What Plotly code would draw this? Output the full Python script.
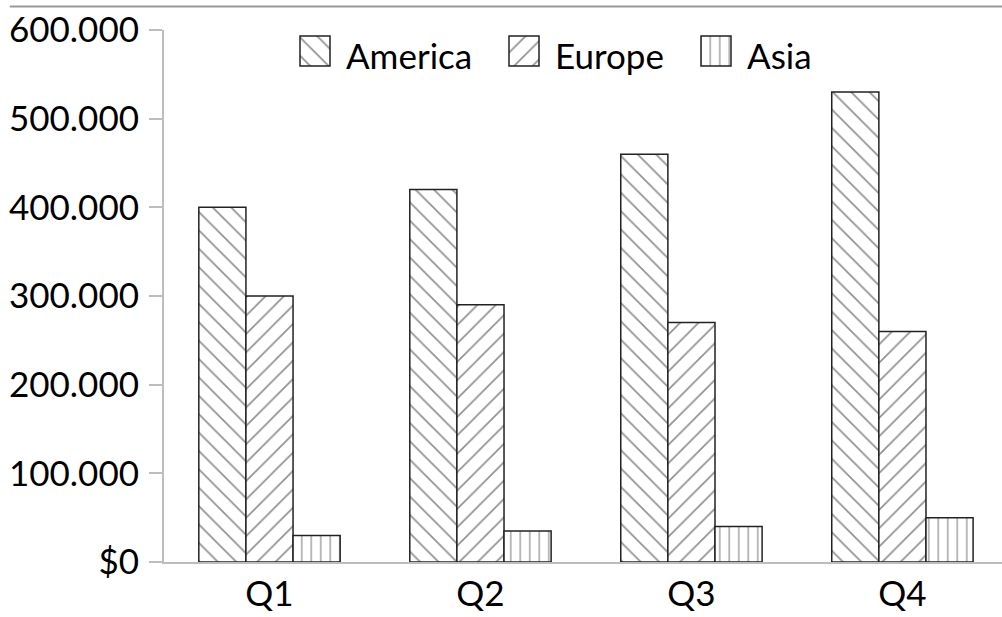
import plotly.graph_objects as go

quarters = ["Q1", "Q2", "Q3", "Q4"]
america = [400000, 420000, 460000, 530000]
europe = [300000, 290000, 270000, 260000]
asia = [30000, 35000, 40000, 50000]

tick_vals = [0, 100000, 200000, 300000, 400000, 500000, 600000]
tick_text = ["$0", "100.000", "200.000", "300.000", "400.000", "500.000", "600.000"]

FONT = "Lato"
FONT_SIZE = 35
INK = "#222222"

series_names = ["America", "Europe", "Asia"]
series_values = [america, europe, asia]
hatch_shapes = ["\\", "/", "|"]
hatch_sizes = [13, 13, 9.5]

# page geometry (pixels)
W, H = 1002, 617
ML, MT, MB = 164, 30, 55
plot_bottom = H - MB

fig = go.Figure()
for name, vals, shape, size in zip(series_names, series_values, hatch_shapes, hatch_sizes):
    fig.add_trace(go.Bar(
        name=name, x=quarters, y=vals, showlegend=False,
        marker=dict(
            color="white",
            line=dict(color=INK, width=1.5),
            pattern=dict(shape=shape, fgcolor=INK, bgcolor="white",
                         size=size, solidity=0.13),
        ),
    ))

# legend keys drawn on a helper axis measured in page pixels
key_left = [300, 509, 701]
key_size = 30
key_top = 36
text_gap = 14
fig.add_trace(go.Bar(
    x=[k + key_size / 2 for k in key_left],
    y=[key_size] * 3, base=[key_top] * 3, width=key_size,
    xaxis="x2", yaxis="y2", showlegend=False, hoverinfo="skip",
    marker=dict(
        color="white",
        line=dict(color=INK, width=1.5),
        pattern=dict(shape=hatch_shapes, fgcolor=INK, bgcolor="white",
                     size=hatch_sizes, solidity=0.13),
    ),
))
annotations = [
    dict(x=k + key_size + text_gap, y=key_top + key_size / 2 + 4, xref="x2", yref="y2",
         text=name, showarrow=False, xanchor="left", yanchor="middle",
         font=dict(family=FONT, size=FONT_SIZE, color="black"))
    for k, name in zip(key_left, series_names)
]

fig.update_layout(
    width=W, height=H,
    margin=dict(l=ML, r=0, t=MT, b=MB),
    paper_bgcolor="white", plot_bgcolor="rgba(0,0,0,0)",
    barmode="group", bargap=0.33, bargroupgap=0,
    font=dict(family=FONT, size=FONT_SIZE, color="black"),
    showlegend=False,
    xaxis=dict(range=[-0.5, 3.472], showline=True, linecolor="#bdbdbd", linewidth=2,
               ticks="", showgrid=False, tickfont=dict(size=FONT_SIZE)),
    yaxis=dict(range=[0, 600000], tickvals=tick_vals, ticktext=tick_text,
               showline=True, linecolor="#bdbdbd", linewidth=2,
               ticks="outside", ticklen=13, tickcolor="#bdbdbd", tickwidth=2,
               ticklabelstandoff=3,
               showgrid=False, zeroline=False, tickfont=dict(size=FONT_SIZE)),
    xaxis2=dict(domain=[0, 1], range=[ML, W], anchor="y2", visible=False, fixedrange=True),
    yaxis2=dict(domain=[0, 1], range=[plot_bottom, MT], anchor="x2", visible=False,
                fixedrange=True),
    annotations=annotations,
    shapes=[dict(type="line", xref="paper", yref="paper", x0=-0.184, x1=1.0,
                 y0=1.0442, y1=1.0442, line=dict(color="#999999", width=2))],
)

fig.write_html("out.html")
